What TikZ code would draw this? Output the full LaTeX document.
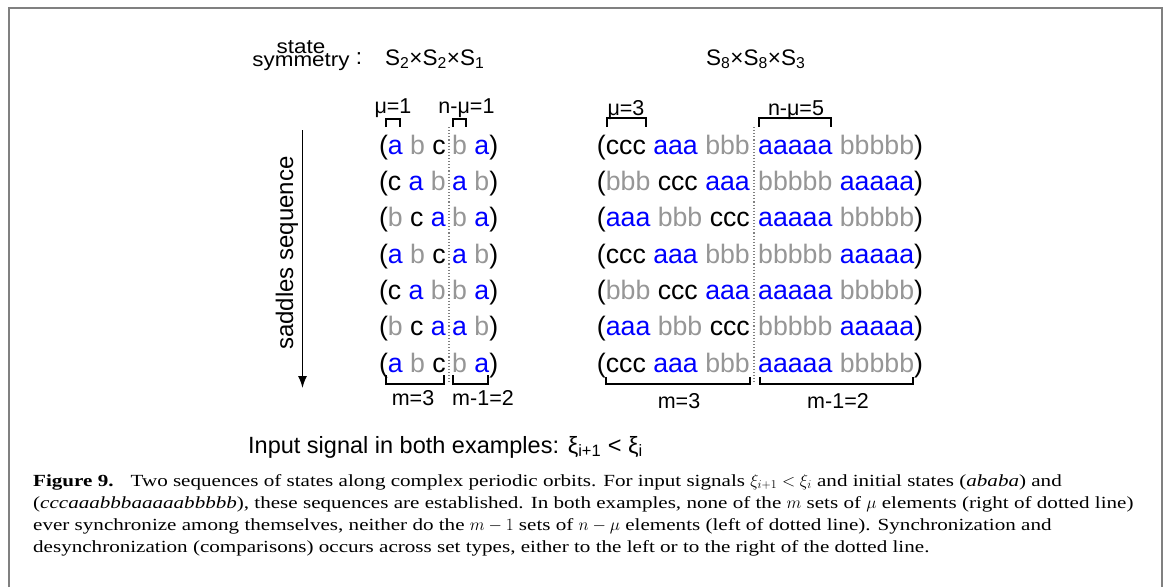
\documentclass[tikz,border=0pt]{standalone}
\usepackage{fontspec}
\setmainfont{Liberation Serif}[FakeStretch=1.24]
\setsansfont{Liberation Sans}
\newfontfamily\wideSans{Liberation Sans}[FakeStretch=1.12]
\usetikzlibrary{arrows.meta}
\definecolor{ablue}{RGB}{0,0,255}
\definecolor{bgray}{RGB}{150,150,150}
\definecolor{framegray}{RGB}{128,128,128}
\newcommand{\cA}[1]{\textcolor{ablue}{#1}}
\newcommand{\cB}[1]{\textcolor{bgray}{#1}}

\begin{document}
\begin{tikzpicture}
    [x=1pt, y=-1pt,
     row/.style={inner sep=0pt, font=\sffamily\fontsize{26.7}{30}\selectfont},
     lbl/.style={inner sep=0pt, anchor=base, font=\sffamily\fontsize{21.5}{24}\selectfont},
     head/.style={inner sep=0pt, font=\sffamily\fontsize{22.5}{26}\selectfont},
     sym/.style={inner sep=0pt, anchor=base, font=\wideSans\fontsize{20}{22}\selectfont},
     brk/.style={line width=1.4pt},
     sep/.style={dotted, line width=1.1pt, gray}]
    \useasboundingbox (0,0) rectangle (1167,587);
    \draw[framegray, line width=2pt] (8.5,587) -- (8.5,7.5) -- (1162,7.5) -- (1162,587);

    \node[sym] (st1) at (301,53) {state};
    \node[sym] (st2) at (301,66.5) {symmetry};
    \node[head, anchor=base] (col) at (359,64) {:};
    \node[head, anchor=base west] (symL) at (385,65) {S\textsubscript{2}×S\textsubscript{2}×S\textsubscript{1}};
    \node[head, anchor=base west] (symR) at (706,65) {S\textsubscript{8}×S\textsubscript{8}×S\textsubscript{3}};

    \coordinate (top) at (302.5,130);
    \coordinate (bot) at (302.5,388);
    \draw[line width=1.4pt, -{Latex[length=12pt,width=9pt]}] (top) -- (bot);
    \node[head, rotate=90, anchor=base, font=\sffamily\fontsize{24}{26}\selectfont] (seq) at (293,253) {saddles sequence};

    \node[lbl] (muL) at (393,113) {μ=1};
    \node[lbl] (nmuL) at (466.5,113) {n-μ=1};
    \draw[brk] (386,127) -- (386,119) -- (400,119) -- (400,127);
    \draw[brk] (453,127) -- (453,119) -- (466,119) -- (466,127);
    \draw[sep] (449,127) -- (449,384);

    \node[row, anchor=base east] (l1a) at (446,154) {(\cA{a} \cB{b} c};
    \node[row, anchor=base west] (l1b) at (452,154) {\cB{b} \cA{a})};
    \node[row, anchor=base east] (l2a) at (446,190.3) {(c \cA{a} \cB{b}};
    \node[row, anchor=base west] (l2b) at (452,190.3) {\cA{a} \cB{b})};
    \node[row, anchor=base east] (l3a) at (446,226.7) {(\cB{b} c \cA{a}};
    \node[row, anchor=base west] (l3b) at (452,226.7) {\cB{b} \cA{a})};
    \node[row, anchor=base east] (l4a) at (446,263) {(\cA{a} \cB{b} c};
    \node[row, anchor=base west] (l4b) at (452,263) {\cA{a} \cB{b})};
    \node[row, anchor=base east] (l5a) at (446,299.3) {(c \cA{a} \cB{b}};
    \node[row, anchor=base west] (l5b) at (452,299.3) {\cB{b} \cA{a})};
    \node[row, anchor=base east] (l6a) at (446,335.7) {(\cB{b} c \cA{a}};
    \node[row, anchor=base west] (l6b) at (452,335.7) {\cA{a} \cB{b})};
    \node[row, anchor=base east] (l7a) at (446,372) {(\cA{a} \cB{b} c};
    \node[row, anchor=base west] (l7b) at (452,372) {\cB{b} \cA{a})};

    \draw[brk] (386,375) -- (386,384) -- (444,384) -- (444,375);
    \draw[brk] (453,375) -- (453,384) -- (488,384) -- (488,375);
    \node[lbl] (mL) at (413,405) {m=3};
    \node[lbl] (m1L) at (483,405) {m-1=2};

    \node[lbl] (muR) at (626,115) {μ=3};
    \node[lbl] (nmuR) at (796,115) {n-μ=5};
    \draw[brk] (607,127) -- (607,118) -- (646,118) -- (646,127);
    \draw[brk] (759,127) -- (759,118) -- (831,118) -- (831,127);
    \draw[sep] (754,127) -- (754,384);

    \node[row, anchor=base east] (r1a) at (750,154) {(ccc \cA{aaa} \cB{bbb}};
    \node[row, anchor=base west] (r1b) at (758,154) {\cA{aaaaa} \cB{bbbbb})};
    \node[row, anchor=base east] (r2a) at (750,190.3) {(\cB{bbb} ccc \cA{aaa}};
    \node[row, anchor=base west] (r2b) at (758,190.3) {\cB{bbbbb} \cA{aaaaa})};
    \node[row, anchor=base east] (r3a) at (750,226.7) {(\cA{aaa} \cB{bbb} ccc};
    \node[row, anchor=base west] (r3b) at (758,226.7) {\cA{aaaaa} \cB{bbbbb})};
    \node[row, anchor=base east] (r4a) at (750,263) {(ccc \cA{aaa} \cB{bbb}};
    \node[row, anchor=base west] (r4b) at (758,263) {\cB{bbbbb} \cA{aaaaa})};
    \node[row, anchor=base east] (r5a) at (750,299.3) {(\cB{bbb} ccc \cA{aaa}};
    \node[row, anchor=base west] (r5b) at (758,299.3) {\cA{aaaaa} \cB{bbbbb})};
    \node[row, anchor=base east] (r6a) at (750,335.7) {(\cA{aaa} \cB{bbb} ccc};
    \node[row, anchor=base west] (r6b) at (758,335.7) {\cB{bbbbb} \cA{aaaaa})};
    \node[row, anchor=base east] (r7a) at (750,372) {(ccc \cA{aaa} \cB{bbb}};
    \node[row, anchor=base west] (r7b) at (758,372) {\cA{aaaaa} \cB{bbbbb})};

    \draw[brk] (606,377) -- (606,384) -- (750,384) -- (750,377);
    \draw[brk] (760,377) -- (760,384) -- (913,384) -- (913,377);
    \node[lbl] (mR) at (679,408) {m=3};
    \node[lbl] (m1R) at (838,408) {m-1=2};

    \node[head, anchor=base west, font=\sffamily\fontsize{23.5}{26}\selectfont] (inp) at (248,453)
        {Input signal in both examples: ξ\textsubscript{i+1} < ξ\textsubscript{i}};

    \node[anchor=base west, align=left, inner sep=0pt, font=\fontsize{17}{22}\selectfont] (cap) at (33,552)
        {\textbf{Figure 9.}\quad Two sequences of states along complex periodic orbits. For input signals $\xi_{i+1} < \xi_i$ and initial states (\textit{ababa}) and\\
         (\textit{cccaaabbbaaaaabbbbb}), these sequences are established. In both examples, none of the $m$ sets of $\mu$ elements (right of dotted line)\\
         ever synchronize among themselves, neither do the $m-1$ sets of $n-\mu$ elements (left of dotted line). Synchronization and\\
         desynchronization (comparisons) occurs across set types, either to the left or to the right of the dotted line.};
\end{tikzpicture}
\end{document}
